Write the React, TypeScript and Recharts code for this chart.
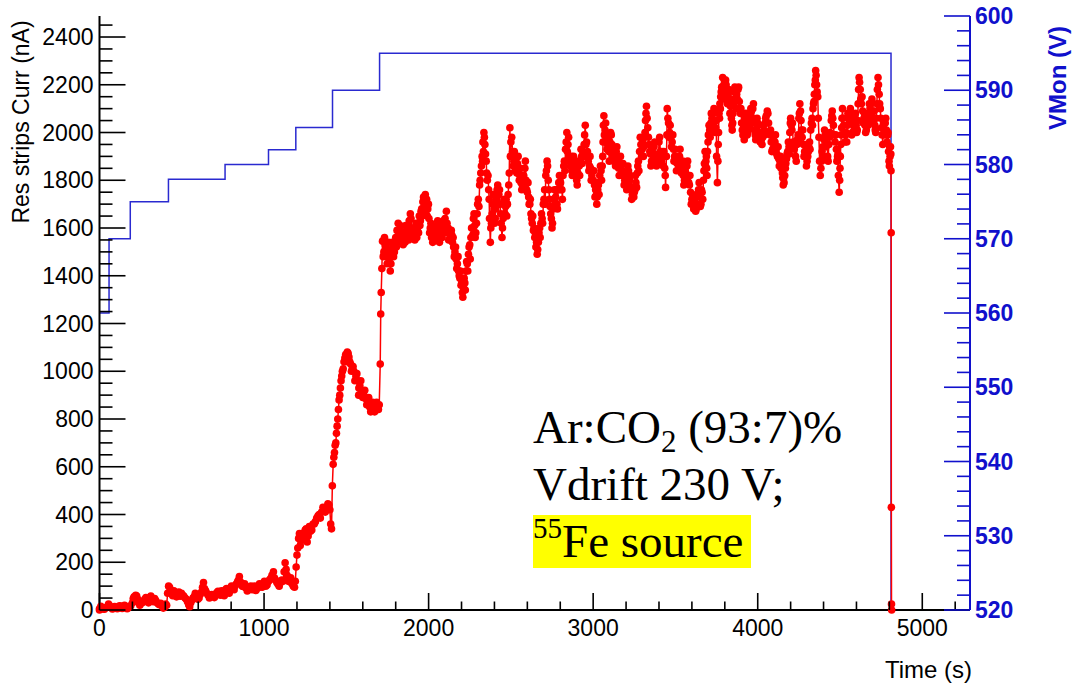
import React from 'react';
import { LineChart, Line, XAxis, YAxis } from 'recharts';

// time (s) vs resistive strips current (nA)
const currRamp: [number, number][] = [
  [0, 5], [15, 8], [30, 3], [45, 12], [55, 25], [70, 10], [85, 6], [100, 12], [115, 8], [130, 15],
  [145, 10], [160, 14], [175, 9], [190, 18], [200, 30], [210, 55], [220, 62], [232, 45], [245, 20],
  [260, 30], [275, 45], [290, 38], [305, 50], [320, 42], [335, 48], [350, 30], [365, 22], [380, 18],
  [395, 12], [408, 20], [420, 100], [432, 80], [445, 60], [460, 72], [475, 65], [490, 58], [505, 62],
  [520, 50], [535, 35], [548, 14], [560, 40], [575, 55], [590, 62], [605, 50], [620, 75], [632, 115],
  [645, 80], [660, 62], [675, 55], [690, 58], [705, 65], [720, 78], [735, 62], [750, 70], [765, 85],
  [780, 78], [795, 88], [810, 95], [825, 102], [840, 120], [850, 140], [862, 112], [875, 98], [890, 92],
  [905, 85], [920, 100], [935, 95], [950, 82], [965, 95], [980, 105], [995, 112], [1010, 100],
  [1025, 118], [1040, 132], [1057, 160], [1070, 125], [1085, 108], [1100, 115], [1115, 120],
  [1128, 198], [1140, 145], [1155, 125], [1170, 110], [1185, 95], [1195, 180], [1205, 260], [1215, 320],
  [1225, 290], [1237, 310], [1250, 335], [1262, 285], [1275, 350], [1290, 335], [1305, 360], [1320, 385],
  [1335, 400], [1350, 410], [1365, 425], [1380, 430], [1395, 440], [1405, 360], [1410, 340], [1415, 520],
  [1420, 610], [1428, 660], [1436, 700], [1444, 770], [1452, 840], [1460, 900], [1468, 960], [1476, 1000],
  [1486, 1040], [1496, 1070], [1506, 1080], [1516, 1060], [1526, 1030], [1536, 1010], [1546, 1000],
  [1558, 980], [1570, 960], [1575, 900], [1582, 940], [1594, 920], [1606, 900], [1618, 885], [1630, 870],
  [1642, 850], [1654, 840], [1666, 860], [1678, 845], [1690, 855], [1700, 860],
];
const currRampB: [number, number][] = [
  [8, 15], [22, 4], [38, 10], [62, 18], [78, 4], [92, 14], [108, 5], [122, 18], [138, 6], [152, 20],
  [168, 5], [182, 16], [205, 48], [215, 40], [226, 58], [238, 30], [252, 35], [268, 38], [282, 52],
  [298, 30], [312, 58], [328, 35], [342, 40], [358, 25], [372, 28], [388, 8], [402, 25], [414, 70],
  [426, 95], [438, 68], [452, 80], [468, 55], [482, 75], [498, 70], [512, 58], [528, 45], [542, 22],
  [554, 30], [568, 50], [582, 70], [598, 45], [612, 65], [626, 95], [638, 90], [652, 70], [668, 50],
  [682, 65], [698, 52], [712, 72], [728, 68], [742, 80], [758, 60], [772, 90], [788, 70], [802, 100],
  [818, 85], [832, 110], [845, 125], [856, 118], [868, 100], [882, 110], [898, 80], [912, 95], [928, 85],
  [942, 100], [958, 90], [972, 110], [988, 95], [1002, 120], [1018, 105], [1032, 125], [1048, 145],
  [1063, 135], [1078, 115], [1092, 100], [1108, 125], [1122, 160], [1134, 170], [1148, 120], [1162, 135],
  [1178, 100], [1190, 120], [1200, 230], [1210, 300], [1220, 270], [1230, 320], [1244, 300], [1256, 340],
  [1268, 310], [1282, 330], [1298, 360], [1312, 370], [1328, 395], [1342, 385], [1358, 430], [1372, 410],
  [1388, 445], [1400, 420], [1424, 640], [1432, 690], [1440, 740], [1448, 800], [1456, 880], [1464, 930],
  [1472, 980], [1481, 1010], [1491, 1055], [1501, 1040], [1511, 1075], [1521, 1040], [1531, 1000],
  [1541, 1020], [1552, 960], [1564, 990], [1576, 930], [1588, 960], [1600, 890], [1612, 920], [1624, 860],
  [1636, 890], [1648, 830], [1660, 870], [1672, 830], [1684, 870], [1695, 840],
];

const currPlateau: [number, number][] = [
  [1706, 1030], [1709, 1240], [1712, 1330], [1716, 1430], [1720, 1545], [1728, 1500], [1736, 1530],
  [1744, 1480], [1752, 1510], [1760, 1460], [1767, 1420], [1775, 1490], [1783, 1520], [1792, 1500],
  [1800, 1560], [1808, 1590], [1815, 1620], [1823, 1570], [1830, 1590], [1838, 1550], [1845, 1530],
  [1853, 1580], [1860, 1610], [1868, 1570], [1875, 1590], [1882, 1630], [1889, 1660], [1897, 1600],
  [1905, 1560], [1912, 1580], [1920, 1600], [1928, 1560], [1935, 1620], [1943, 1650], [1950, 1630],
  [1958, 1680], [1965, 1710], [1972, 1690], [1980, 1740], [1988, 1720], [1995, 1680], [2002, 1640],
  [2010, 1600], [2018, 1560], [2025, 1540], [2033, 1570], [2040, 1590], [2048, 1610], [2055, 1630],
  [2062, 1580], [2070, 1560], [2078, 1590], [2085, 1610], [2093, 1580], [2100, 1640], [2108, 1670],
  [2115, 1580], [2122, 1550], [2130, 1570], [2138, 1590], [2145, 1540], [2152, 1520], [2160, 1500],
  [2167, 1470], [2175, 1450], [2182, 1420], [2190, 1390], [2197, 1360], [2205, 1330], [2212, 1350],
  [2220, 1370], [2227, 1420], [2235, 1450], [2242, 1490], [2250, 1530], [2257, 1560], [2265, 1600],
  [2272, 1640], [2280, 1610], [2287, 1580], [2295, 1660], [2302, 1720], [2310, 1780], [2317, 1830],
  [2325, 1900], [2330, 1960], [2336, 2000], [2342, 1950], [2350, 1880], [2357, 1800], [2365, 1760],
  [2370, 1640], [2375, 1540], [2382, 1620], [2390, 1700], [2397, 1680], [2405, 1640], [2412, 1720],
  [2420, 1780], [2427, 1740], [2435, 1700], [2441, 1620], [2446, 1560], [2453, 1640], [2460, 1720],
  [2468, 1690], [2475, 1650], [2483, 1740], [2490, 1830], [2494, 2020], [2500, 1960], [2510, 1920],
  [2518, 1880], [2525, 1860], [2532, 1900], [2540, 1870], [2548, 1840], [2555, 1820], [2562, 1790],
  [2570, 1780], [2578, 1820], [2585, 1850], [2592, 1800], [2600, 1750], [2608, 1730], [2615, 1700],
  [2622, 1660], [2630, 1620], [2637, 1590], [2645, 1560], [2652, 1520], [2660, 1490], [2667, 1540],
  [2675, 1600], [2682, 1620], [2690, 1640], [2697, 1700], [2705, 1760], [2712, 1820], [2720, 1880],
  [2727, 1800], [2735, 1720], [2742, 1660], [2750, 1600], [2757, 1680], [2765, 1760], [2772, 1730],
  [2780, 1700], [2787, 1760], [2795, 1820], [2802, 1790], [2810, 1760], [2817, 1820], [2825, 1880],
  [2832, 1930], [2840, 2000], [2847, 1950], [2855, 1900], [2862, 1860], [2870, 1840], [2877, 1870],
  [2885, 1880], [2892, 1830], [2900, 1800], [2907, 1830], [2915, 1860], [2922, 1880], [2930, 1900],
  [2937, 1920], [2945, 1950], [2952, 2030], [2960, 1960], [2970, 1880], [2978, 1860], [2985, 1850],
  [2992, 1820],
];
const currPlateauB: [number, number][] = [
  [1724, 1480], [1732, 1560], [1740, 1510], [1748, 1450], [1756, 1540], [1764, 1480], [1771, 1450],
  [1779, 1540], [1787, 1480], [1796, 1540], [1804, 1520], [1812, 1560], [1819, 1580], [1827, 1610],
  [1834, 1540], [1842, 1580], [1849, 1560], [1857, 1540], [1864, 1580], [1872, 1610], [1879, 1550],
  [1886, 1600], [1893, 1640], [1901, 1580], [1909, 1600], [1916, 1550], [1924, 1620], [1932, 1590],
  [1939, 1580], [1947, 1610], [1954, 1670], [1962, 1650], [1969, 1730], [1976, 1660], [1984, 1700],
  [1992, 1650], [1999, 1700], [2006, 1580], [2014, 1620], [2021, 1580], [2029, 1600], [2036, 1550],
  [2044, 1570], [2051, 1600], [2059, 1610], [2066, 1540], [2074, 1600], [2082, 1560], [2089, 1630],
  [2097, 1600], [2104, 1610], [2112, 1620], [2119, 1600], [2126, 1590], [2134, 1550], [2141, 1570],
  [2149, 1560], [2156, 1480], [2164, 1520], [2171, 1430], [2179, 1480], [2186, 1400], [2193, 1420],
  [2201, 1370], [2208, 1310], [2216, 1390], [2223, 1340], [2231, 1460], [2238, 1420], [2246, 1520],
  [2253, 1470], [2261, 1600], [2268, 1570], [2276, 1660], [2283, 1560], [2291, 1620], [2298, 1700],
  [2306, 1690], [2313, 1800], [2321, 1860], [2328, 1880], [2333, 1920], [2339, 1980], [2346, 1910],
  [2353, 1830], [2361, 1820], [2368, 1720], [2378, 1600], [2386, 1660], [2393, 1740], [2401, 1620],
  [2408, 1680], [2416, 1760], [2423, 1700], [2431, 1760], [2438, 1660], [2449, 1600], [2456, 1700],
  [2464, 1660], [2471, 1720], [2479, 1700], [2487, 1780], [2497, 1900], [2505, 1980], [2514, 1860],
  [2521, 1920], [2528, 1840], [2536, 1830], [2544, 1900], [2551, 1800], [2558, 1850], [2566, 1760],
  [2574, 1800], [2581, 1770], [2588, 1880], [2596, 1760], [2604, 1790], [2611, 1700], [2618, 1720],
  [2626, 1640], [2633, 1650], [2641, 1600], [2648, 1580], [2656, 1540], [2663, 1510], [2671, 1580],
  [2678, 1560], [2686, 1660], [2693, 1620], [2701, 1720], [2708, 1700], [2716, 1840], [2723, 1860],
  [2731, 1760], [2738, 1690], [2746, 1640], [2753, 1620], [2761, 1720], [2768, 1700], [2776, 1760],
  [2783, 1680], [2791, 1790], [2798, 1760], [2806, 1820], [2813, 1720], [2821, 1860], [2828, 1840],
  [2836, 1960], [2843, 1920], [2851, 1980], [2858, 1880], [2866, 1900], [2873, 1820], [2881, 1900],
  [2888, 1850], [2896, 1860], [2903, 1780], [2911, 1880], [2918, 1820], [2926, 1930], [2933, 1870],
  [2941, 1900], [2948, 1990], [2956, 1950], [2965, 1920], [2974, 1840], [2981, 1900], [2988, 1800],
  [2996, 1840],
];

const currHigh: [number, number][] = [
  [3000, 1800], [3008, 1780], [3015, 1760], [3020, 1740], [3025, 1730], [3032, 1780], [3040, 1820],
  [3048, 1840], [3055, 1860], [3060, 1960], [3065, 2070], [3072, 2010], [3080, 1980], [3088, 1950],
  [3095, 1920], [3102, 1960], [3110, 1990], [3118, 1930], [3125, 1880], [3132, 1900], [3140, 1920],
  [3148, 1880], [3155, 1850], [3162, 1870], [3170, 1860], [3178, 1840], [3185, 1820], [3192, 1800],
  [3200, 1780], [3208, 1810], [3215, 1840], [3222, 1800], [3230, 1760], [3238, 1740], [3247, 1730],
  [3254, 1760], [3260, 1790], [3268, 1830], [3275, 1880], [3282, 1920], [3290, 1950], [3298, 1930],
  [3305, 1900], [3312, 1980], [3318, 2050], [3324, 2110], [3332, 2020], [3340, 1950], [3348, 1910],
  [3355, 1880], [3362, 1910], [3370, 1940], [3378, 1900], [3385, 1860], [3392, 1910], [3400, 1960],
  [3408, 1920], [3415, 1880], [3422, 1900], [3430, 1920], [3435, 1850], [3440, 1770], [3445, 1900],
  [3450, 2100], [3458, 2040], [3465, 2000], [3472, 1980], [3480, 1960], [3488, 1930], [3495, 1900],
  [3502, 1880], [3510, 1870], [3518, 1890], [3525, 1900], [3532, 1870], [3540, 1850], [3548, 1820],
  [3555, 1800], [3562, 1830], [3570, 1860], [3578, 1820], [3585, 1780], [3592, 1750], [3600, 1720],
  [3608, 1700], [3615, 1690], [3623, 1670], [3630, 1700], [3640, 1760], [3648, 1730], [3655, 1700],
  [3662, 1750], [3670, 1800], [3676, 1870], [3680, 1920], [3685, 1880], [3690, 1850], [3695, 1920],
  [3700, 1990], [3708, 2010], [3715, 2040], [3722, 2060], [3730, 2080], [3738, 2050], [3745, 2020],
  [3750, 1900], [3755, 1790], [3760, 1950], [3765, 2080], [3770, 2120], [3775, 2150], [3781, 2190],
  [3787, 2230], [3794, 2200], [3800, 2180], [3805, 2220], [3812, 2170], [3820, 2160], [3828, 2130],
  [3835, 2110], [3840, 2060], [3845, 2010], [3850, 2080], [3858, 2170], [3865, 2140], [3872, 2160],
  [3880, 2180], [3888, 2130], [3895, 2080], [3902, 2040], [3910, 1990], [3918, 1970], [3925, 2060],
  [3932, 2030], [3940, 2000], [3948, 2040], [3955, 2070], [3962, 2090], [3970, 2100], [3978, 2040],
  [3985, 1990], [3992, 2010], [4000, 2040], [4008, 2000], [4015, 1960], [4022, 1970], [4030, 1980],
  [4038, 2010], [4045, 2040], [4052, 2070], [4058, 2090], [4066, 2040], [4075, 1990], [4082, 1960],
  [4090, 1930], [4098, 1950], [4105, 1960], [4112, 1930], [4120, 1900], [4128, 1890], [4135, 1880],
  [4142, 1850], [4150, 1830], [4155, 1780], [4160, 1790], [4168, 1850], [4175, 1890], [4182, 1920],
  [4190, 1940], [4195, 2000], [4200, 2060], [4208, 2010], [4215, 1960], [4222, 1930], [4230, 1900],
  [4238, 1950], [4245, 1990], [4250, 2060], [4256, 2120], [4263, 2050], [4270, 1980], [4278, 1950],
  [4285, 1920], [4292, 1900], [4300, 1880], [4308, 1920], [4315, 1960], [4322, 2010], [4330, 2060],
  [4336, 2100], [4342, 2130], [4347, 2200], [4352, 2260], [4358, 2200], [4365, 2150], [4372, 1980],
  [4380, 1820], [4388, 1880], [4395, 1940], [4402, 1970], [4410, 1990], [4418, 1950], [4425, 1900],
  [4432, 1950], [4440, 2000], [4447, 2050], [4453, 2090], [4460, 2030], [4470, 1960], [4478, 1930],
  [4485, 1900], [4490, 1820], [4495, 1750], [4500, 1850], [4505, 1950], [4510, 2020], [4515, 2100],
  [4522, 2030], [4530, 1960], [4538, 2000], [4545, 2030], [4552, 2060], [4560, 2080], [4567, 2040],
  [4575, 2000], [4582, 2030], [4590, 2060], [4598, 2030], [4605, 2010], [4610, 2120], [4616, 2230],
  [4623, 2180], [4630, 2120], [4638, 2090], [4645, 2060], [4652, 2030], [4660, 2010], [4668, 2040],
  [4675, 2080], [4682, 2100], [4690, 2120], [4698, 2090], [4705, 2060], [4712, 2030], [4717, 2000],
  [4724, 2120], [4731, 2230], [4738, 2160], [4745, 2100], [4752, 2020], [4760, 1950], [4768, 2000],
  [4775, 2040], [4782, 2010], [4790, 1990], [4795, 1920], [4800, 1860], [4804, 1900], [4807, 1940],
  [4809, 1910], [4810, 1840],
];
const currHighB: [number, number][] = [
  [3004, 1840], [3011, 1730], [3018, 1790], [3022, 1700], [3028, 1760], [3036, 1740], [3044, 1860],
  [3051, 1800], [3058, 1900], [3062, 2030], [3068, 1990], [3076, 2040], [3084, 1930], [3091, 1980],
  [3098, 1880], [3106, 2000], [3114, 1950], [3121, 1900], [3128, 1920], [3136, 1860], [3144, 1940],
  [3151, 1900], [3158, 1820], [3166, 1900], [3174, 1820], [3181, 1870], [3188, 1780], [3196, 1830],
  [3204, 1760], [3211, 1860], [3218, 1780], [3226, 1820], [3234, 1720], [3242, 1770], [3250, 1750],
  [3257, 1820], [3264, 1770], [3271, 1860], [3278, 1840], [3286, 1980], [3294, 1900], [3301, 1960],
  [3308, 1940], [3315, 2000], [3321, 2080], [3328, 2060], [3336, 1980], [3344, 1920], [3351, 1860],
  [3358, 1930], [3366, 1880], [3374, 1960], [3381, 1880], [3388, 1900], [3396, 1880], [3404, 1980],
  [3411, 1900], [3418, 1920], [3426, 1860], [3438, 1820], [3448, 1990], [3454, 2060], [3461, 1980],
  [3468, 2030], [3476, 1940], [3484, 1990], [3491, 1880], [3498, 1930], [3506, 1840], [3514, 1900],
  [3521, 1860], [3528, 1930], [3536, 1830], [3544, 1880], [3551, 1780], [3558, 1840], [3566, 1800],
  [3574, 1880], [3581, 1790], [3588, 1820], [3596, 1700], [3604, 1740], [3611, 1680], [3619, 1720],
  [3626, 1680], [3635, 1740], [3644, 1790], [3651, 1690], [3658, 1760], [3666, 1720], [3673, 1840],
  [3683, 1860], [3688, 1900], [3692, 1820], [3698, 1960], [3704, 2030], [3711, 1980], [3718, 2080],
  [3726, 2030], [3734, 2100], [3741, 2000], [3748, 2050], [3758, 1880], [3762, 2000], [3768, 2060],
  [3773, 2100], [3778, 2170], [3784, 2140], [3790, 2160], [3797, 2220], [3802, 2140], [3808, 2200],
  [3816, 2120], [3824, 2180], [3831, 2080], [3838, 2140], [3843, 2030], [3848, 2040], [3854, 2120],
  [3861, 2190], [3868, 2100], [3876, 2140], [3884, 2190], [3891, 2100], [3898, 2100], [3906, 2010],
  [3914, 2030], [3921, 2010], [3928, 2080], [3936, 1990], [3944, 2070], [3951, 2020], [3958, 2100],
  [3966, 2060], [3974, 2120], [3981, 2010], [3988, 1970], [3996, 2060], [4004, 2030], [4011, 1980],
  [4018, 1990], [4026, 1950], [4034, 2030], [4041, 1990], [4048, 2060], [4055, 2040], [4062, 2080],
  [4070, 2000], [4078, 2010], [4086, 1920], [4094, 1980], [4101, 1920], [4108, 1990], [4116, 1910],
  [4124, 1940], [4131, 1860], [4138, 1900], [4146, 1860], [4152, 1810], [4158, 1810], [4164, 1820],
  [4171, 1870], [4178, 1910], [4186, 1960], [4192, 1910], [4198, 2040], [4204, 2030], [4211, 2040],
  [4218, 1940], [4226, 1960], [4234, 1880], [4241, 1970], [4248, 1960], [4253, 2080], [4260, 2090],
  [4266, 2010], [4274, 2010], [4281, 1900], [4288, 1950], [4296, 1860], [4304, 1900], [4311, 1940],
  [4318, 1930], [4326, 2040], [4333, 2030], [4339, 2120], [4344, 2160], [4350, 2220], [4355, 2240],
  [4361, 2170], [4368, 2060], [4376, 1880], [4384, 1850], [4391, 1920], [4398, 1900], [4406, 2010],
  [4414, 1940], [4421, 1980], [4428, 1880], [4436, 1980], [4444, 1990], [4450, 2070], [4456, 2060],
  [4465, 1990], [4474, 1990], [4481, 1880], [4488, 1910], [4498, 1800], [4502, 1900], [4508, 1990],
  [4512, 2060], [4518, 2060], [4526, 2000], [4534, 1990], [4541, 1960], [4548, 2080], [4556, 2040],
  [4563, 2100], [4571, 1990], [4578, 2040], [4586, 2000], [4594, 2080], [4601, 2000], [4608, 2050],
  [4613, 2180], [4619, 2210], [4626, 2140], [4634, 2150], [4641, 2040], [4648, 2080], [4656, 2000],
  [4664, 2060], [4671, 2030], [4678, 2120], [4686, 2060], [4694, 2140], [4701, 2040], [4708, 2090],
  [4714, 2010], [4720, 2060], [4727, 2180], [4734, 2200], [4741, 2120], [4748, 2060], [4756, 1990],
  [4764, 2040], [4771, 1990], [4778, 2060], [4786, 1960], [4792, 2000], [4798, 1880], [4802, 1940],
];

// HV switched off: current falls to zero, graph closes back to the origin
const currOff: [number, number][] = [
  [4811, 1580], [4812, 430], [4813, 25], [4814, 0], [0, 0],
];

// VMon (V) steps
const vmonSteps: [number, number][] = [
  [0, 560], [58, 570], [187, 575], [419, 578], [763, 580], [1027, 582], [1193, 585],
  [1416, 590], [1702, 595], [4810, 595], [4810, 520],
];

const timeMajor = [0, 1000, 2000, 3000, 4000, 5000];
const currMajor = [0, 200, 400, 600, 800, 1000, 1200, 1400, 1600, 1800, 2000, 2200, 2400];
const vmonMajor = [520, 530, 540, 550, 560, 570, 580, 590, 600];

const X_MAX = 5290;
const CURR_MAX = 2488;

const currSorted = [...currRamp, ...currRampB, ...currPlateau, ...currPlateauB, ...currHigh, ...currHighB]
  .sort((a, b) => a[0] - b[0]);
const currData = [...currSorted, ...currOff].map(([t, v]) => ({ t, v }));
const vmonData = vmonSteps.map(([t, v]) => ({ t, v }));

// major ticks plus n subdivisions, clipped to max
const withMinor = (major: number[], n: number, max: number) => {
  const step = (major[1] - major[0]) / n;
  const out: number[] = [];
  for (let v = major[0]; v <= max + 1e-6; v += step) out.push(Math.round(v * 100) / 100);
  return out;
};
const isMajor = (v: number, major: number[]) => major.some((m) => Math.abs(m - v) < 1e-6);

const SANS = "'Liberation Sans', Arial, sans-serif";
const SERIF = "'Liberation Serif', 'Times New Roman', serif";
const BLUE = '#1010cc';

const LeftTick = (p: any) => {
  const major = isMajor(p.payload.value, currMajor);
  return (
    <g>
      <line x1={p.x} y1={p.y} x2={p.x + (major ? 26 : 13)} y2={p.y} stroke="#000" strokeWidth={1.6} />
      {major && (
        <text x={p.x - 6} y={p.y + 8} textAnchor="end" fontSize={23} fontFamily={SANS} fill="#000">
          {p.payload.value}
        </text>
      )}
    </g>
  );
};

const RightTick = (p: any) => {
  const major = isMajor(p.payload.value, vmonMajor);
  return (
    <g>
      <line x1={p.x} y1={p.y} x2={p.x - (major ? 26 : 13)} y2={p.y} stroke={BLUE} strokeWidth={1.6} />
      {major && (
        <text x={p.x + 5} y={p.y + 8} textAnchor="start" fontSize={23} fontWeight="bold" fontFamily={SANS} fill={BLUE}>
          {p.payload.value}
        </text>
      )}
    </g>
  );
};

const BottomTick = (p: any) => {
  const major = isMajor(p.payload.value, timeMajor);
  return (
    <g>
      <line x1={p.x} y1={p.y} x2={p.x} y2={p.y - (major ? 17 : 8.5)} stroke="#000" strokeWidth={1.6} />
      {major && (
        <text x={p.x} y={p.y + 26} textAnchor="middle" fontSize={23} fontFamily={SANS} fill="#000">
          {p.payload.value}
        </text>
      )}
    </g>
  );
};

const TopTick = (p: any) => {
  const major = isMajor(p.payload.value, timeMajor);
  return <line x1={p.x} y1={p.y} x2={p.x} y2={p.y + (major ? 17 : 8.5)} stroke="#000" strokeWidth={1.6} />;
};

export default function App() {
  const xTicks = withMinor(timeMajor, 5, X_MAX);
  const yTicks = withMinor(currMajor, 4, CURR_MAX);
  const vTicks = withMinor(vmonMajor, 5, 600);

  return (
    <div style={{ position: 'absolute', left: 0, top: 0, width: 1073, height: 687, background: '#fff' }}>
      <LineChart width={1073} height={687} margin={{ top: 16, right: 0, bottom: 0, left: 0 }}>
        <XAxis
          xAxisId="bottom" dataKey="t" type="number" domain={[0, X_MAX]} ticks={xTicks} interval={0}
          tickSize={0} tickMargin={0} tick={BottomTick} height={77}
          axisLine={{ stroke: '#000', strokeWidth: 2 }} tickLine={false}
        />
        <XAxis
          xAxisId="top" orientation="top" dataKey="t" type="number" domain={[0, X_MAX]} ticks={xTicks} interval={0}
          tickSize={0} tickMargin={0} tick={TopTick} height={0}
          axisLine={{ stroke: '#000', strokeWidth: 2 }} tickLine={false}
        />
        <YAxis
          yAxisId="left" type="number" domain={[0, CURR_MAX]} ticks={yTicks} interval={0}
          tickSize={0} tickMargin={0} tick={LeftTick} width={99.5}
          axisLine={{ stroke: '#000', strokeWidth: 2 }} tickLine={false}
        />
        <YAxis
          yAxisId="right" orientation="right" type="number" domain={[520, 600]} ticks={vTicks} interval={0}
          tickSize={0} tickMargin={0} tick={RightTick} width={103}
          axisLine={{ stroke: BLUE, strokeWidth: 2 }} tickLine={false}
        />
        <Line
          xAxisId="top" yAxisId="right" data={vmonData} dataKey="v" type="stepAfter"
          stroke="#2a2ad0" strokeWidth={1.5} dot={false} isAnimationActive={false}
        />
        <Line
          xAxisId="bottom" yAxisId="left" data={currData} dataKey="v" type="linear"
          stroke="#ff0000" strokeWidth={1.5} dot={{ r: 3.8, fill: '#ff0000', stroke: 'none' }}
          isAnimationActive={false}
        />
      </LineChart>
      <svg width={1073} height={687} style={{ position: 'absolute', left: 0, top: 0, pointerEvents: 'none' }}>
        <text transform="translate(29,122) rotate(-90)" textAnchor="middle" fontSize={23} fontFamily={SANS} fill="#000">
          Res strips Curr (nA)
        </text>
        <text transform="translate(1066,78) rotate(-90)" textAnchor="middle" fontSize={24} fontWeight="bold" fontFamily={SANS} fill={BLUE}>
          VMon (V)
        </text>
        <text x={972} y={678} textAnchor="end" fontSize={24} fontFamily={SANS} fill="#000">
          Time (s)
        </text>
        <g fontFamily={SERIF} fill="#000">
          <text x={533} y={443} fontSize={47}>
            Ar:CO<tspan fontSize={31} dy={9}>2</tspan>
            <tspan dy={-9}> (93:7)%</tspan>
          </text>
          <text x={533} y={500} fontSize={47}>Vdrift 230 V;</text>
          <rect x={533} y={515} width={218} height={53} fill="#ffff00" />
          <text x={533} y={557} fontSize={47}>
            <tspan fontSize={29} dy={-19}>55</tspan>
            <tspan dy={19}>Fe source</tspan>
          </text>
        </g>
      </svg>
    </div>
  );
}
